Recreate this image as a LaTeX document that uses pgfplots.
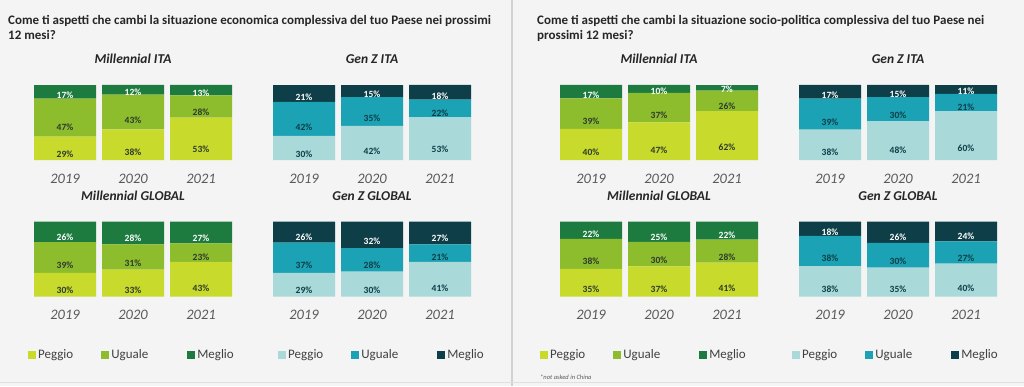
\documentclass[border=0pt]{standalone}
\usepackage{pgfplots}
\pgfplotsset{compat=1.18}
\usepackage{pgfplotstable}
\usepackage{fontspec}
\setmainfont{Carlito}
\definecolor{gP}{HTML}{C8DA2B}
\definecolor{gU}{HTML}{8DBD2C}
\definecolor{gM}{HTML}{1E7B40}
\definecolor{tP}{HTML}{A9D9D9}
\definecolor{tU}{HTML}{1BA2B4}
\definecolor{tM}{HTML}{0E3E47}
\definecolor{bg}{HTML}{F4F4F4}
\definecolor{txt}{HTML}{262626}
\definecolor{yr}{HTML}{595959}
\definecolor{lg}{HTML}{404040}
\definecolor{lab}{HTML}{2E3A2E}

% economic situation
\pgfplotstableread{
x P U M
0 29 47 17
1 38 43 12
2 53 28 13
}\eMI
\pgfplotstableread{
x P U M
0 30 42 21
1 42 35 15
2 53 22 18
}\eGI
\pgfplotstableread{
x P U M
0 30 39 26
1 33 31 28
2 43 23 27
}\eMG
\pgfplotstableread{
x P U M
0 29 37 26
1 30 28 32
2 41 21 27
}\eGG
% socio-political situation
\pgfplotstableread{
x P U M
0 40 39 17
1 47 37 10
2 62 26 7
}\sMI
\pgfplotstableread{
x P U M
0 38 39 17
1 48 30 15
2 60 21 11
}\sGI
\pgfplotstableread{
x P U M
0 35 38 22
1 37 30 25
2 41 28 22
}\sMG
\pgfplotstableread{
x P U M
0 38 38 18
1 35 30 26
2 40 27 24
}\sGG

\pgfplotsset{
 mini/.style={
   ybar stacked, bar width=62pt, scale only axis, width=204pt, height=75pt,
   xmin=-0.5, xmax=2.5, ymin=0, ymax=100,
   axis line style={draw=none}, ytick=\empty, xtick={0,1,2}, xticklabels={2019,2020,2021},
   major tick length=0pt,
   xticklabel style={font=\fontsize{14.5}{14.5}\selectfont\itshape, text=yr, anchor=base, yshift=-23pt},
   title style={font=\fontsize{13.5}{13.5}\selectfont\bfseries\itshape, text=txt, at={(0.5,1)}, anchor=base, yshift=15pt},
   clip=false,
 },
 sqlegend/.style={legend image code/.code={\fill[##1] (0pt,-4pt) rectangle (8pt,4pt);}},
 leg/.style={
   sqlegend,
   legend style={draw=none, fill=none, font=\fontsize{13}{13}\selectfont, text=lg,
     legend columns=3,
     /tikz/column 2/.style={column sep=26pt},
     /tikz/column 4/.style={column sep=37pt},
     at={(0,0)}, anchor=west, xshift=#1, yshift=-58.5pt, inner xsep=0pt},
 },
}

\newcommand\seg[4]{%
 \addplot[fill=#3, draw=none,
   point meta=explicit,
   visualization depends on={\thisrow{#2}*100/(\thisrow{P}+\thisrow{U}+\thisrow{M}) \as \segh},
   nodes near coords={\pgfmathprintnumber[fixed,precision=0,assume math mode=true]{\pgfplotspointmeta}\%},
   every node near coord/.append style={font=\fontsize{9.5}{9.5}\selectfont\bfseries, text=#4, anchor=center, shift={(axis direction cs:0,-\segh/4)}},
 ] table[x=x, y expr=\thisrow{#2}*100/(\thisrow{P}+\thisrow{U}+\thisrow{M}), meta=#2] {#1};
}
\newcommand\green[1]{\seg{#1}{P}{gP}{lab}\seg{#1}{U}{gU}{lab}\seg{#1}{M}{gM}{white}}
\newcommand\teal[1]{\seg{#1}{P}{tP}{tM}\seg{#1}{U}{tU}{tM}\seg{#1}{M}{tM}{white}}

\begin{document}
\begin{tikzpicture}
\path[use as bounding box] (0pt,0pt) rectangle (1024pt,386pt);
\fill[bg] (0pt,0pt) rectangle (1024pt,386pt);
\draw[black!18, line width=1.5pt] (512pt,0pt) -- (512pt,386pt);
\draw[black!12, line width=1pt] (0pt,4pt) -- (1024pt,4pt);

\node[anchor=base west, inner sep=0, font=\fontsize{13}{15}\selectfont\bfseries, text=txt] at (8pt,361.5pt) {Come ti aspetti che cambi la situazione economica complessiva del tuo Paese nei prossimi};
\node[anchor=base west, inner sep=0, font=\fontsize{13}{15}\selectfont\bfseries, text=txt] at (8pt,346.5pt) {12 mesi?};
\node[anchor=base west, inner sep=0, font=\fontsize{13}{15}\selectfont\bfseries, text=txt] at (537pt,361.5pt) {Come ti aspetti che cambi la situazione socio-politica complessiva del tuo Paese nei};
\node[anchor=base west, inner sep=0, font=\fontsize{13}{15}\selectfont\bfseries, text=txt] at (537pt,346.5pt) {prossimi 12 mesi?};

% left panel
\begin{axis}[mini, at={(31pt,226pt)}, anchor=south west, title={Millennial ITA}]
\green{\eMI}
\end{axis}
\begin{axis}[mini, at={(270pt,226pt)}, anchor=south west, title={Gen Z ITA}]
\teal{\eGI}
\end{axis}
\begin{axis}[mini, at={(31pt,89.5pt)}, anchor=south west, title={Millennial GLOBAL}, leg=-3pt]
\green{\eMG}
\legend{Peggio,Uguale,Meglio}
\end{axis}
\begin{axis}[mini, at={(270pt,89.5pt)}, anchor=south west, title={Gen Z GLOBAL}, leg=8pt]
\teal{\eGG}
\legend{Peggio,Uguale,Meglio}
\end{axis}

% right panel
\begin{axis}[mini, at={(557pt,226pt)}, anchor=south west, title={Millennial ITA}]
\green{\sMI}
\end{axis}
\begin{axis}[mini, at={(796pt,226pt)}, anchor=south west, title={Gen Z ITA}]
\teal{\sGI}
\end{axis}
\begin{axis}[mini, at={(557pt,89.5pt)}, anchor=south west, title={Millennial GLOBAL}, leg=-17pt]
\green{\sMG}
\legend{Peggio,Uguale,Meglio}
\end{axis}
\begin{axis}[mini, at={(796pt,89.5pt)}, anchor=south west, title={Gen Z GLOBAL}, leg=-4pt]
\teal{\sGG}
\legend{Peggio,Uguale,Meglio}
\end{axis}

\node[anchor=base west, inner sep=0, font=\fontsize{6.5}{7}\selectfont\itshape, text=yr] at (540pt,7pt) {*not asked in China};
\end{tikzpicture}
\end{document}
